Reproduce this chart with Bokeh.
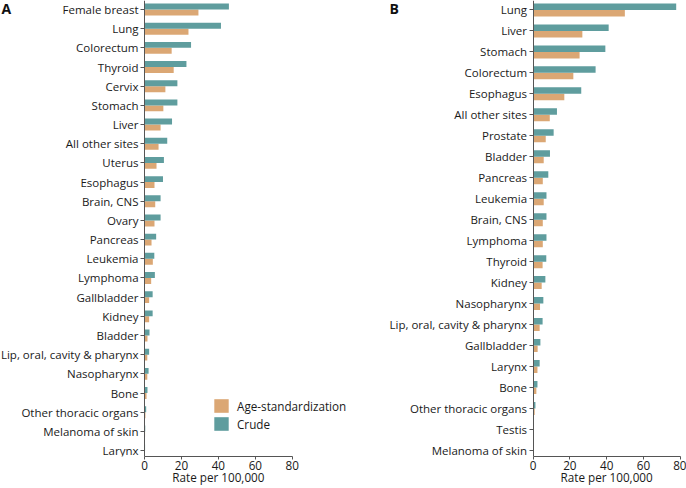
from bokeh.plotting import figure
from bokeh.layouts import row
from bokeh.models import (Range1d, FixedTicker, Legend, LegendItem, Label,
                          ColumnDataSource, LinearAxis)
from bokeh.embed import file_html
from bokeh.resources import INLINE

# ---------------- data ----------------
sites_A = ["Female breast", "Lung", "Colorectum", "Thyroid", "Cervix", "Stomach", "Liver",
           "All other sites", "Uterus", "Esophagus", "Brain, CNS", "Ovary", "Pancreas",
           "Leukemia", "Lymphoma", "Gallbladder", "Kidney", "Bladder",
           "Lip, oral, cavity & pharynx", "Nasopharynx", "Bone", "Other thoracic organs",
           "Melanoma of skin", "Larynx"]
crude_A = [45.7, 41.4, 25.2, 22.7, 17.8, 17.8, 14.9, 12.3, 10.5, 10.0, 8.7, 8.7, 6.3,
           5.3, 5.6, 4.4, 4.4, 2.7, 2.5, 2.2, 1.6, 0.9, 0.4, 0.3]
asr_A = [29.2, 23.8, 14.7, 15.8, 11.3, 10.2, 8.7, 7.6, 6.5, 5.4, 5.8, 5.4, 3.8,
         4.5, 3.6, 2.5, 2.5, 1.6, 1.5, 1.5, 1.1, 0.5, 0.3, 0.2]

sites_B = ["Lung", "Liver", "Stomach", "Colorectum", "Esophagus", "All other sites",
           "Prostate", "Bladder", "Pancreas", "Leukemia", "Brain, CNS", "Lymphoma",
           "Thyroid", "Kidney", "Nasopharynx", "Lip, oral, cavity & pharynx",
           "Gallbladder", "Larynx", "Bone", "Other thoracic organs", "Testis",
           "Melanoma of skin"]
crude_B = [77.8, 41.1, 39.3, 34.0, 26.2, 13.0, 11.2, 9.2, 8.3, 7.3, 7.3, 7.3, 7.2, 6.7,
           5.6, 5.2, 4.0, 3.6, 2.4, 1.3, 0.5, 0.5]
asr_B = [49.9, 26.8, 25.3, 21.9, 17.0, 9.1, 6.9, 5.8, 5.3, 5.8, 5.3, 5.3, 5.2, 4.7,
         3.8, 3.6, 2.5, 2.4, 1.8, 0.9, 0.3, 0.3]

x_ticks = [0, 20, 40, 60, 80]
x_title = "Rate per 100,000"
series_names = ["Age-standardization", "Crude"]

CRUDE_COLOR = "#5f9d9e"
ASR_COLOR = "#dba774"
FONT = "Open Sans"
TEXT = "#1a1a1a"
AXIS = "#555555"
H = 488
FS = "11.7px"
FS_Y = "11.5px"


def panel(sites, crude, asr, width, x_lo, x_hi, top_pad, bot_pad, letter, letter_dx,
          with_legend):
    n = len(sites)
    ypos = [n - 1 - i for i in range(n)]
    bh = 0.31
    y_top = n - 1 + top_pad
    p = figure(width=width, height=H, output_backend="svg", toolbar_location=None,
               x_range=Range1d(x_lo, x_hi), y_range=Range1d(-bot_pad, y_top),
               min_border_left=0, min_border_right=0,
               min_border_top=0, min_border_bottom=32)
    p.outline_line_color = None
    p.grid.visible = False
    p.background_fill_color = None
    p.border_fill_color = None

    src = ColumnDataSource(dict(
        y_c=[y + bh / 2 for y in ypos], y_a=[y - bh / 2 for y in ypos],
        crude=crude, asr=asr))
    r_a = p.hbar(y="y_a", right="asr", left=0, height=bh, source=src,
                 fill_color=ASR_COLOR, line_color=None)
    r_c = p.hbar(y="y_c", right="crude", left=0, height=bh, source=src,
                 fill_color=CRUDE_COLOR, line_color=None)

    # y axis, pinned at x = 0 inside the frame
    ya = p.yaxis[0]
    ya.fixed_location = 0
    ya.ticker = FixedTicker(ticks=ypos)
    ya.major_label_overrides = {y: s for y, s in zip(ypos, sites)}
    ya.minor_tick_line_color = None
    ya.major_tick_in = 0
    ya.major_tick_out = 4
    ya.major_label_standoff = 2
    ya.axis_line_color = AXIS
    ya.major_tick_line_color = AXIS
    ya.major_label_text_font = FONT
    ya.major_label_text_font_size = FS_Y
    ya.major_label_text_color = TEXT

    # x axis
    xa = p.xaxis[0]
    xa.bounds = (0, 80)
    xa.ticker = FixedTicker(ticks=x_ticks)
    xa.minor_tick_line_color = None
    xa.major_tick_in = 0
    xa.major_tick_out = 3
    xa.major_label_standoff = 1
    xa.axis_line_color = AXIS
    xa.major_tick_line_color = AXIS
    xa.major_label_text_font = FONT
    xa.major_label_text_font_size = FS
    xa.major_label_text_color = TEXT

    # axis title, centred under the 0-80 span
    xt = LinearAxis(ticker=FixedTicker(ticks=[40]), bounds=(0, 80),
                    major_label_overrides={40: x_title})
    xt.axis_line_color = None
    xt.major_tick_line_color = None
    xt.minor_tick_line_color = None
    xt.major_tick_in = 0
    xt.major_tick_out = 0
    xt.major_label_standoff = -4
    xt.major_label_text_font = FONT
    xt.major_label_text_font_size = FS
    xt.major_label_text_color = TEXT
    p.add_layout(xt, "below")

    lab = Label(x=x_lo, y=y_top, x_offset=letter_dx, y_offset=2, text=letter,
                text_font=FONT, text_font_style="bold", text_font_size="14px",
                text_color="#111111", text_baseline="top")
    p.add_layout(lab)

    if with_legend:
        leg = Legend(items=[LegendItem(label=series_names[0], renderers=[r_a]),
                            LegendItem(label=series_names[1], renderers=[r_c])],
                     location=(212, 24))
        leg.padding = 0
        leg.margin = 0
        leg.spacing = 1
        leg.border_line_color = None
        leg.background_fill_alpha = 0
        leg.glyph_width = 18
        leg.glyph_height = 17
        leg.label_height = 17
        leg.label_standoff = 7
        leg.label_text_font = FONT
        leg.label_text_font_size = FS
        leg.label_text_color = TEXT
        p.add_layout(leg)
    return p


pA = panel(sites_A, crude_A, asr_A, 380, -78.0, 127.8, 0.47, 0.31, "A", 1, True)
pB = panel(sites_B, crude_B, asr_B, 306, -82.9, 83.4, 0.45, 0.29, "B", 9, False)

layout = row(pA, pB)
open("out.html", "w").write(file_html(layout, INLINE))
